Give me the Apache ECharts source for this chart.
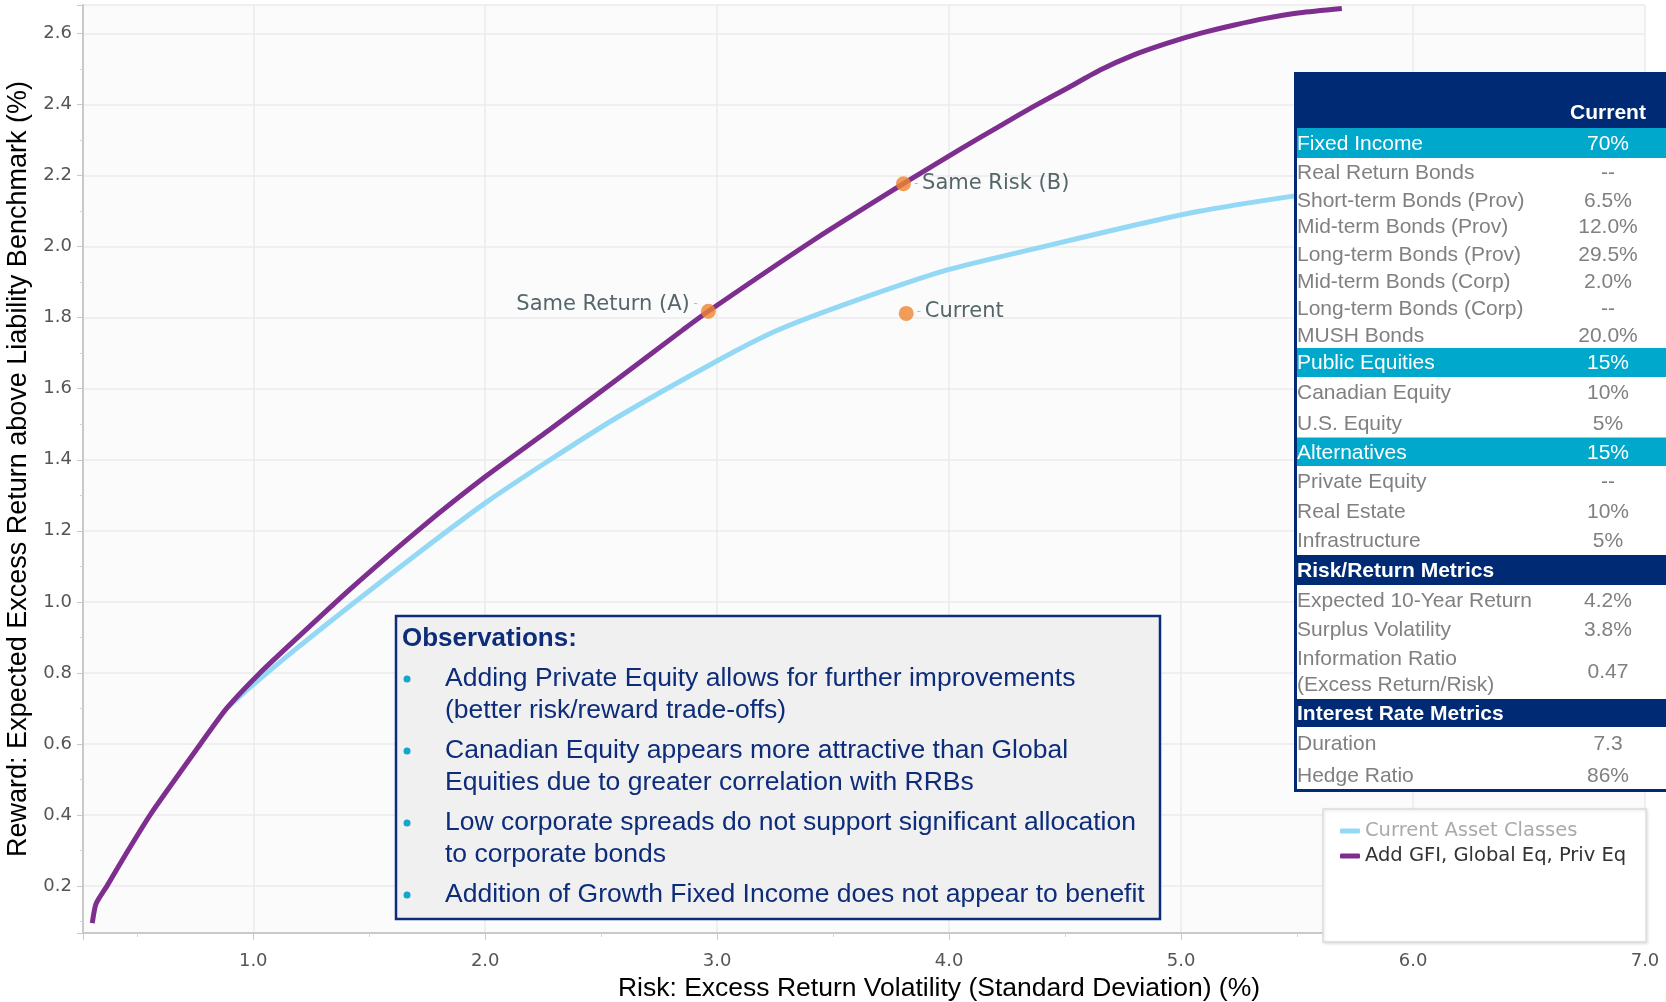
<!DOCTYPE html>
<html>
<head>
<meta charset="utf-8">
<title>Risk / Reward frontier</title>
<script src="https://cdn.jsdelivr.net/npm/echarts@6/dist/echarts.min.js"></script>
<style>
  html, body { margin: 0; padding: 0; background: #fff; }
  #chart { width: 1666px; height: 1002px; }
</style>
</head>
<body>
<div id="chart"></div>
<script>
// frontier curves, [risk %, excess return %]
const currentFrontier = [
  [0.885, 0.70], [0.987, 0.76], [1.2, 0.876], [1.418, 0.989], [1.706, 1.135],
  [2.004, 1.28], [2.28, 1.40], [2.568, 1.519], [2.999, 1.678], [3.255, 1.763],
  [3.584, 1.845], [3.996, 1.935], [4.407, 2.0], [4.737, 2.051], [5.066, 2.098],
  [5.461, 2.14], [5.8, 2.17]
]
const addedFrontier = [
  [0.306, 0.096], [0.322, 0.15], [0.369, 0.2], [0.46, 0.30], [0.555, 0.4],
  [0.756, 0.585], [0.885, 0.70], [1.029, 0.8], [1.2, 0.905], [1.418, 1.036],
  [1.734, 1.214], [2.004, 1.354], [2.28, 1.486], [2.568, 1.626], [2.855, 1.767],
  [2.962, 1.818], [3.42, 2.02], [3.803, 2.177], [4.045, 2.273], [4.22, 2.34],
  [4.363, 2.394], [4.507, 2.445], [4.651, 2.497], [4.794, 2.539], [4.938, 2.572],
  [5.082, 2.60], [5.226, 2.623], [5.37, 2.643], [5.513, 2.658], [5.693, 2.67]
]
const seriesNames = ['Current Asset Classes', 'Add GFI, Global Eq, Priv Eq']

// highlighted portfolios
const pointNames = ['Same Return (A)', 'Same Risk (B)', 'Current']
const pointValues = [[2.962, 1.818], [3.803, 2.177], [3.815, 1.812]]

// allocation table
const tableHead = 'Current'
const tableLabels = [
  'Fixed Income', 'Real Return Bonds', 'Short-term Bonds (Prov)', 'Mid-term Bonds (Prov)',
  'Long-term Bonds (Prov)', 'Mid-term Bonds (Corp)', 'Long-term Bonds (Corp)', 'MUSH Bonds',
  'Public Equities', 'Canadian Equity', 'U.S. Equity',
  'Alternatives', 'Private Equity', 'Real Estate', 'Infrastructure',
  'Risk/Return Metrics', 'Expected 10-Year Return', 'Surplus Volatility',
  'Information Ratio\n(Excess Return/Risk)',
  'Interest Rate Metrics', 'Duration', 'Hedge Ratio'
]
const tableValues = [
  '70%', '--', '6.5%', '12.0%', '29.5%', '2.0%', '--', '20.0%',
  '15%', '10%', '5%',
  '15%', '--', '10%', '5%',
  '', '4.2%', '3.8%', '0.47',
  '', '7.3', '86%'
]
const tableKinds = [
  'section', 'item', 'item', 'item', 'item', 'item', 'item', 'item',
  'section', 'item', 'item',
  'section', 'item', 'item', 'item',
  'header', 'item', 'item', 'item',
  'header', 'item', 'item'
]

const observations = [
  ['Adding Private Equity allows for further improvements', '(better risk/reward trade-offs)'],
  ['Canadian Equity appears more attractive than Global', 'Equities due to greater correlation with RRBs'],
  ['Low corporate spreads do not support significant allocation', 'to corporate bonds'],
  ['Addition of Growth Fixed Income does not appear to benefit']
]

// layout
const rowHeights = [30, 29, 26, 27, 28, 27, 27, 26, 29, 31, 29.5, 28.5, 31, 29, 29, 30, 30, 29, 55, 28, 33, 30]
const labelSide = ['left', 'right', 'right']
const labelOffset = [[0, -7], [0, 0], [0, -2]]

const NAVY = '#002b74'
const TEAL = '#00a8cb'
const FONT_AX = '"DejaVu Sans", Verdana, sans-serif'
const FONT_TXT = '"Liberation Sans", Arial, sans-serif'
const ZTOP = 100

function tableGraphics() {
  const x0 = 1294, w = 372, top = 72, headH = 56
  const els = []
  const total = headH + rowHeights.reduce((a, b) => a + b, 0)
  els.push({ type: 'rect', z: ZTOP, shape: { x: x0, y: top, width: w, height: total + 2 }, style: { fill: '#fff' } })
  els.push({ type: 'rect', z: ZTOP, shape: { x: x0, y: top, width: w, height: headH }, style: { fill: NAVY } })
  els.push({
    type: 'text', z: ZTOP + 1, x: 1608, y: top + 41,
    style: { text: tableHead, fill: '#fff', fontFamily: FONT_TXT, fontSize: 21, fontWeight: 'bold', align: 'center', verticalAlign: 'middle' }
  })
  let y = top + headH
  tableLabels.forEach((label, i) => {
    const h = rowHeights[i]
    const kind = tableKinds[i]
    const cy = y + h / 2
    if (kind === 'section') {
      els.push({ type: 'rect', z: ZTOP, shape: { x: x0 + 3, y: y, width: w - 3, height: h }, style: { fill: TEAL } })
    } else if (kind === 'header') {
      els.push({ type: 'rect', z: ZTOP, shape: { x: x0, y: y, width: w, height: h }, style: { fill: NAVY } })
    }
    const color = kind === 'item' ? '#808080' : '#fff'
    els.push({
      type: 'text', z: ZTOP + 1, x: x0 + 3, y: cy + 1,
      style: {
        text: label, fill: color, fontFamily: FONT_TXT, fontSize: 21, lineHeight: 26,
        fontWeight: kind === 'header' ? 'bold' : 'normal', align: 'left', verticalAlign: 'middle'
      }
    })
    if (tableValues[i]) {
      els.push({
        type: 'text', z: ZTOP + 1, x: 1608, y: cy + 1,
        style: { text: tableValues[i], fill: color, fontFamily: FONT_TXT, fontSize: 21, align: 'center', verticalAlign: 'middle' }
      })
    }
    y += h
  })
  els.push({ type: 'rect', z: ZTOP + 2, shape: { x: x0, y: top, width: 3, height: total + 2 }, style: { fill: NAVY } })
  els.push({ type: 'rect', z: ZTOP + 2, shape: { x: x0, y: y - 1, width: w, height: 3 }, style: { fill: NAVY } })
  return els
}

function observationGraphics() {
  const els = []
  els.push({
    type: 'rect', z: ZTOP, shape: { x: 396, y: 616, width: 764, height: 303 },
    style: { fill: '#f0f0f0', stroke: '#0d2c7a', lineWidth: 2.5 }
  })
  els.push({
    type: 'text', z: ZTOP + 1, x: 402, y: 639,
    style: { text: 'Observations:', fill: '#0d2c7a', fontFamily: FONT_TXT, fontSize: 26, fontWeight: 'bold', verticalAlign: 'middle' }
  })
  let y = 679
  observations.forEach(lines => {
    els.push({ type: 'circle', z: ZTOP + 1, shape: { cx: 407, cy: y, r: 3.5 }, style: { fill: '#12a6c8' } })
    lines.forEach(line => {
      els.push({
        type: 'text', z: ZTOP + 1, x: 445, y: y,
        style: { text: line, fill: '#0d2c7a', fontFamily: FONT_TXT, fontSize: 26.5, verticalAlign: 'middle' }
      })
      y += 32
    })
    y += 8
  })
  return els
}

const chart = echarts.init(document.getElementById('chart'))

chart.setOption({
  animation: false,
  backgroundColor: '#fff',
  grid: {
    left: 83, right: 21, top: 5, bottom: 69,
    outerBoundsMode: 'none',
    show: true, backgroundColor: '#fbfbfb', borderWidth: 0
  },
  xAxis: {
    type: 'value',
    min: 0.266,
    max: 7,
    splitNumber: 7,
    name: 'Risk: Excess Return Volatility (Standard Deviation) (%)',
    nameLocation: 'middle',
    nameGap: 40,
    nameTextStyle: { fontFamily: FONT_TXT, fontSize: 26.5, color: '#000', padding: [0, 0, 0, 150] },
    axisLine: { show: true, onZero: false, lineStyle: { color: '#c9c9c9', width: 2 } },
    axisTick: { show: true, length: 7, lineStyle: { color: '#c9c9c9' } },
    minorTick: { show: true, splitNumber: 2, length: 4, lineStyle: { color: '#d4d4d4' } },
    axisLabel: {
      showMinLabel: false, margin: 19, color: '#555', fontFamily: FONT_AX, fontSize: 18,
      formatter: v => v.toFixed(1)
    },
    splitLine: { show: true, lineStyle: { color: '#ebebeb', width: 1.5 } }
  },
  yAxis: {
    type: 'value',
    min: 0.068,
    max: 2.68,
    splitNumber: 13,
    name: 'Reward: Expected Excess Return above Liability Benchmark (%)',
    nameLocation: 'middle',
    nameGap: 46,
    nameTextStyle: { fontFamily: FONT_TXT, fontSize: 27, color: '#000' },
    axisLine: { show: true, onZero: false, lineStyle: { color: '#c9c9c9', width: 2 } },
    axisTick: { show: true, length: 6, lineStyle: { color: '#c9c9c9' } },
    minorTick: { show: true, splitNumber: 2, length: 3, lineStyle: { color: '#d4d4d4' } },
    axisLabel: {
      showMinLabel: false, showMaxLabel: false, margin: 11, color: '#555', fontFamily: FONT_AX, fontSize: 18,
      formatter: v => v.toFixed(1)
    },
    splitLine: { show: true, lineStyle: { color: '#ebebeb', width: 1.5 } }
  },
  legend: {
    orient: 'vertical',
    left: 1323,
    top: 809,
    padding: [12, 20, 76, 17],
    backgroundColor: '#fff',
    borderColor: '#dcdcdc',
    borderWidth: 1.5,
    shadowBlur: 3,
    shadowColor: 'rgba(0,0,0,0.12)',
    shadowOffsetX: 1,
    shadowOffsetY: 1,
    icon: 'roundRect',
    itemWidth: 20,
    itemHeight: 5,
    itemGap: 5,
    textStyle: { fontFamily: FONT_AX, fontSize: 19.5, color: '#333', width: 266, overflow: 'truncate', ellipsis: '' },
    data: [
      { name: seriesNames[0], textStyle: { color: '#aaa' } },
      { name: seriesNames[1] }
    ]
  },
  series: [
    {
      name: seriesNames[0],
      type: 'line',
      data: currentFrontier,
      smooth: 0.2,
      showSymbol: false,
      lineStyle: { color: '#93d9f5', width: 5 },
      itemStyle: { color: '#93d9f5' },
      z: 2
    },
    {
      name: seriesNames[1],
      type: 'line',
      data: addedFrontier,
      smooth: 0.2,
      showSymbol: false,
      lineStyle: { color: '#7d2e8f', width: 5 },
      itemStyle: { color: '#7d2e8f' },
      z: 3
    },
    {
      type: 'scatter',
      symbolSize: 15,
      itemStyle: { color: '#f0842f' },
      z: 4,
      data: pointValues.map((v, i) => ({
        name: pointNames[i],
        value: v,
        label: {
          show: true,
          position: labelSide[i],
          distance: 3,
          offset: labelOffset[i],
          formatter: labelSide[i] === 'left' ? '{t|{b}}{d| -}' : '{d|- }{t|{b}}',
          rich: {
            t: { fontFamily: FONT_AX, fontSize: 21, color: '#2a4146' },
            d: { fontFamily: FONT_AX, fontSize: 12, color: '#aaa' }
          }
        }
      }))
    }
  ],
  graphic: [
    { type: 'group', children: tableGraphics() },
    { type: 'group', children: observationGraphics() }
  ]
})
</script>
</body>
</html>
